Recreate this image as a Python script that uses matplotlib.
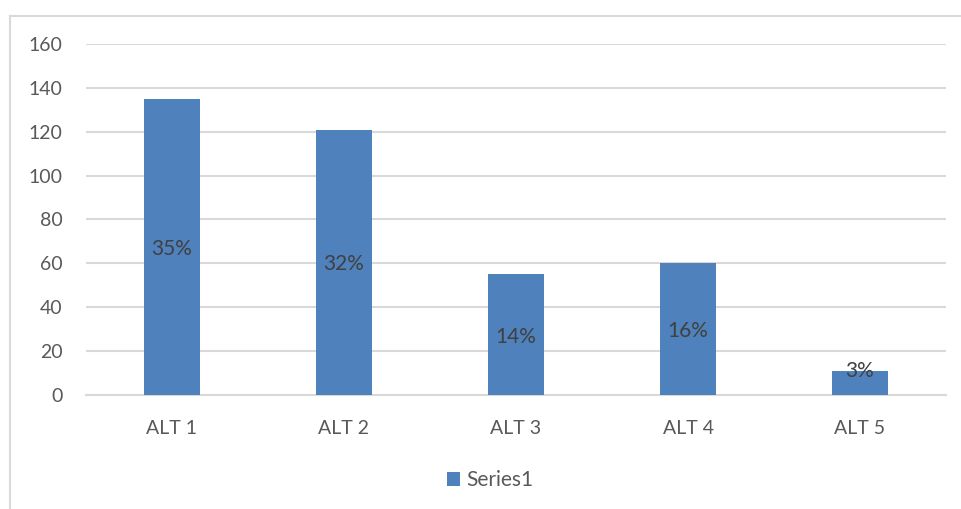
import matplotlib
matplotlib.use('Agg')
import matplotlib.pyplot as plt
from matplotlib.lines import Line2D
from matplotlib.patches import Patch

# Data
categories = ['ALT 1', 'ALT 2', 'ALT 3', 'ALT 4', 'ALT 5']
values = [135, 121, 55, 60, 11]
pct_labels = ['35%', '32%', '14%', '16%', '3%']
yticks = [0, 20, 40, 60, 80, 100, 120, 140, 160]

bar_color = '#4f81bd'
text_color = '#595959'
grid_color = '#d9d9d9'

plt.rcParams['font.family'] = ['Lato', 'DejaVu Sans']

fig = plt.figure(figsize=(9.61, 5.09), dpi=100, facecolor='white')
ax = fig.add_axes([86 / 961, 114 / 509, 860 / 961, 351 / 509])

x = list(range(len(categories)))
ax.bar(x, values, width=0.32, color=bar_color, zorder=3)

# Percent labels in the middle of each bar
for xi, v, lab in zip(x, values, pct_labels):
    ax.text(xi, max(v / 2 - 1, 11.0), lab, ha='center', va='center',
            fontsize=15, color='#404040', zorder=4)

ax.set_xlim(-0.5, len(categories) - 0.5)
ax.set_ylim(0, 160)
ax.set_yticks(yticks)
ax.set_xticks(x)
ax.set_xticklabels(categories)
ax.yaxis.grid(True, color=grid_color, linewidth=1.5, zorder=0)
ax.tick_params(axis='both', length=0, labelsize=14, labelcolor=text_color)
ax.tick_params(axis='y', pad=17)
ax.tick_params(axis='x', pad=18)
for side in ['top', 'right', 'left']:
    ax.spines[side].set_visible(False)
ax.spines['bottom'].set_color(grid_color)
ax.spines['bottom'].set_linewidth(1.5)

# Legend below the plot
handle = Patch(facecolor=bar_color, edgecolor='none')
fig.legend([handle], ['Series1'], loc='center', bbox_to_anchor=(490 / 961, 1 - 480 / 509),
           frameon=False, fontsize=15, labelcolor=text_color,
           handlelength=0.65, handleheight=0.65, handletextpad=0.3)

# Chart area border (top and left edges visible)
fig.add_artist(Line2D([9.5 / 961, 9.5 / 961], [0, 1 - 15.5 / 509],
                      transform=fig.transFigure, color=grid_color, linewidth=1.5))
fig.add_artist(Line2D([9.5 / 961, 1], [1 - 15.5 / 509, 1 - 15.5 / 509],
                      transform=fig.transFigure, color=grid_color, linewidth=1.5))

fig.savefig('out.png', dpi=100, facecolor='white')
